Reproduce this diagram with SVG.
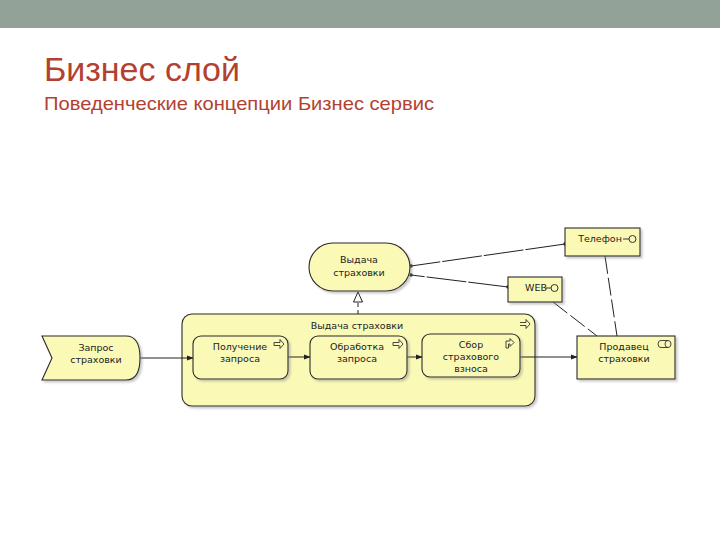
<svg xmlns="http://www.w3.org/2000/svg" width="720" height="540" viewBox="0 0 720 540">
<defs>
<style>
.n{fill:#fbf9b6;stroke:#2a2a2a;stroke-width:1.1;filter:url(#sh)}
.t{font-family:"DejaVu Sans","Liberation Sans",sans-serif;font-size:9.5px;fill:#222;text-anchor:middle}
.c{stroke:#222;stroke-width:1;fill:none}
.ic{stroke:#333;stroke-width:0.9;fill:#fbf9b6}
</style>
<filter id="sh" x="-10%" y="-10%" width="130%" height="130%">
<feDropShadow dx="2" dy="2" stdDeviation="1" flood-color="#888" flood-opacity="0.45"/>
</filter>
<marker id="a" viewBox="0 0 8 8" refX="7" refY="4" markerWidth="7" markerHeight="7" orient="auto">
<path d="M0,1 L8,4 L0,7 Z" fill="#222"/>
</marker>
<marker id="d" viewBox="0 0 6 6" refX="3" refY="3" markerWidth="4" markerHeight="4" orient="auto">
<circle cx="3" cy="3" r="2.5" fill="#222"/>
</marker>
<marker id="tri" viewBox="0 0 12 10" refX="11" refY="5" markerWidth="12" markerHeight="10" markerUnits="userSpaceOnUse" orient="auto">
<path d="M1,0.5 L11,5 L1,9.5 Z" fill="#fff" stroke="#222" stroke-width="1"/>
</marker>
</defs>
<rect x="0" y="0" width="720" height="28" fill="#93a299"/>
<text x="44" y="81" font-family="Liberation Sans, Arial, sans-serif" font-size="33" fill="#b3412f" textLength="196" lengthAdjust="spacingAndGlyphs">Бизнес слой</text>
<text x="44" y="110" font-family="Liberation Sans, Arial, sans-serif" font-size="19" fill="#b3412f" textLength="390" lengthAdjust="spacingAndGlyphs">Поведенческие концепции Бизнес сервис</text>

<g id="container">
<rect class="n" x="182" y="314" width="353" height="92" rx="10"/>
<text class="t" x="357" y="329">Выдача страховки</text>
<path class="ic" d="M520,322.5 H526 V319.5 L530,324 L526,328.5 V325.5 H520"/>
</g>

<g id="connectors">
<line class="c" x1="140" y1="358" x2="193" y2="358" marker-end="url(#a)"/>
<line class="c" x1="288" y1="357" x2="310" y2="357" marker-end="url(#a)"/>
<line class="c" x1="407" y1="357" x2="422" y2="357" marker-end="url(#a)"/>
<line class="c" x1="520" y1="357" x2="577" y2="357" marker-end="url(#a)"/>
<line class="c" x1="565" y1="244" x2="411" y2="266" marker-end="url(#d)" marker-start="url(#d)" stroke-dasharray="40,2"/>
<line class="c" x1="508" y1="287" x2="411" y2="275" marker-end="url(#d)" marker-start="url(#d)" stroke-dasharray="40,2"/>
<line class="c" x1="358" y1="314" x2="358" y2="292" stroke-dasharray="4,3" marker-end="url(#tri)"/>
<line class="c" x1="605" y1="256" x2="617" y2="336" stroke-dasharray="18,4"/>
<line class="c" x1="553" y1="302" x2="597" y2="336" stroke-dasharray="18,4"/>
</g>

<g id="service">
<rect class="n" x="309" y="243" width="101" height="48" rx="24"/>
<text class="t" x="359" y="263">Выдача</text>
<text class="t" x="359" y="276">страховки</text>
</g>

<g id="phone">
<rect class="n" x="565" y="228" width="75" height="28"/>
<text class="t" x="600" y="242">Телефон</text>
<line x1="623" y1="239" x2="629" y2="239" stroke="#333" stroke-width="1"/>
<circle cx="632.5" cy="239" r="3.5" fill="none" stroke="#333" stroke-width="1"/>
</g>

<g id="web">
<rect class="n" x="508" y="277" width="54" height="25"/>
<text class="t" x="536" y="291">WEB</text>
<line x1="546" y1="288" x2="551" y2="288" stroke="#333" stroke-width="1"/>
<circle cx="554.5" cy="288" r="3.5" fill="none" stroke="#333" stroke-width="1"/>
</g>

<g id="event">
<path class="n" d="M42,336 H126 Q140,336 140,358 Q140,380 126,380 H42 L52,358 Z"/>
<text class="t" x="96" y="351">Запрос</text>
<text class="t" x="96" y="363">страховки</text>
</g>

<g id="p1">
<rect class="n" x="193" y="336" width="95" height="43" rx="8"/>
<text class="t" x="240" y="350">Получение</text>
<text class="t" x="240" y="362">запроса</text>
<path class="ic" d="M274,342.5 H280 V339.5 L284,344 L280,348.5 V345.5 H274 Z"/>
</g>

<g id="p2">
<rect class="n" x="310" y="336" width="97" height="43" rx="8"/>
<text class="t" x="357" y="350">Обработка</text>
<text class="t" x="357" y="362">запроса</text>
<path class="ic" d="M393,342.5 H399 V339.5 L403,344 L399,348.5 V345.5 H393 Z"/>
</g>

<g id="p3">
<rect class="n" x="422" y="334" width="98" height="43" rx="8"/>
<text class="t" x="471" y="348">Сбор</text>
<text class="t" x="471" y="360">страхового</text>
<text class="t" x="471" y="372">взноса</text>
<path class="ic" d="M506,348 V341 H510 V338.5 L514,342.5 L510,346.5 V344 H508.5 V348 Z"/>
</g>

<g id="role">
<rect class="n" x="577" y="336" width="98" height="43"/>
<text class="t" x="624" y="350">Продавец</text>
<text class="t" x="624" y="362">страховки</text>
<path d="M661,340.5 H668 M661,347.5 H668 M661,340.5 A3,3.5 0 0 0 661,347.5" fill="none" stroke="#333" stroke-width="0.9"/>
<ellipse cx="668" cy="344" rx="3" ry="3.5" fill="none" stroke="#333" stroke-width="0.9"/>
</g>
</svg>
